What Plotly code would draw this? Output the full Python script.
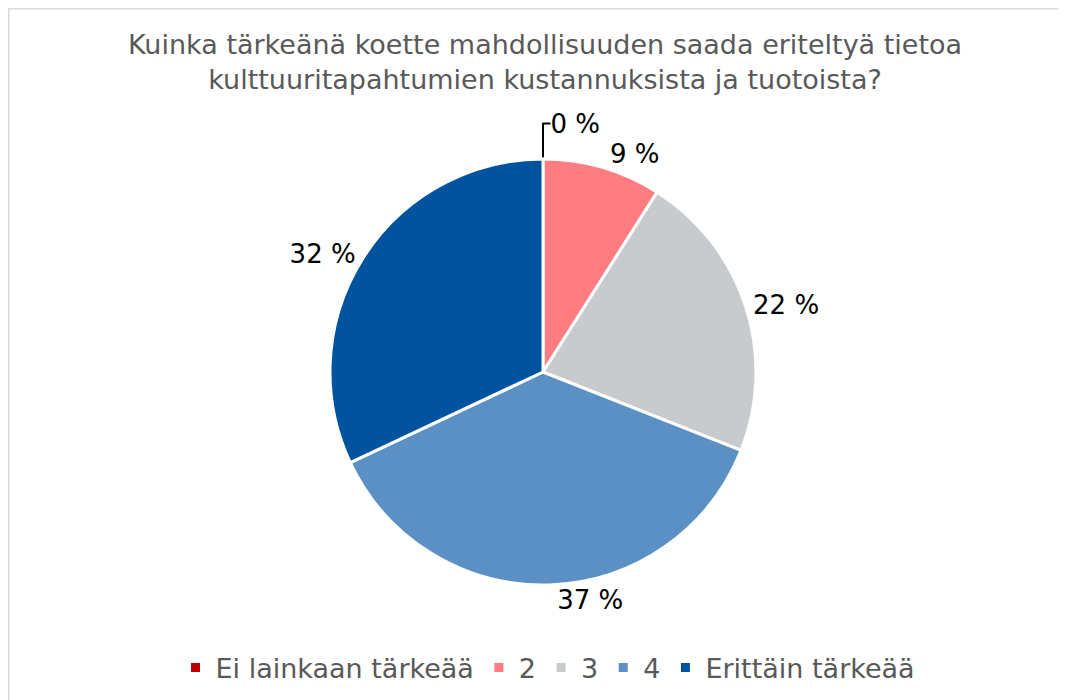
import plotly.graph_objects as go

# datos del gráfico
vastaukset = ['Ei lainkaan tärkeää', '2', '3', '4', 'Erittäin tärkeää']
osuudet = [0, 9, 22, 37, 32]
varit = ['#C00000', '#FF7C80', '#C8CBCE', '#5B90C4', '#00539F']

otsikko = 'Kuinka tärkeänä koette mahdollisuuden saada eriteltyä tietoa<br>kulttuuritapahtumien kustannuksista ja tuotoista?'

# page adds an 8px body margin, so the figure starts at (8, 8)
OFF = 8
W, H = 1066 - OFF, 700 - OFF


def px_x(x):
    return (x - OFF) / W


def px_y(y):
    return 1 - (y - OFF) / H


fig = go.Figure()
fig.add_trace(go.Pie(
    labels=vastaukset, values=osuudet,
    sort=False, direction='clockwise', rotation=0,
    marker=dict(colors=varit, line=dict(color='white', width=3)),
    texttemplate='%{value} %', textposition='outside',
    textfont=dict(size=26, color='#000000'),
    domain=dict(x=[px_x(330), px_x(756)], y=[px_y(585), px_y(159)]),
    hoverinfo='label+value',
))

fig.add_annotation(x=px_x(545), y=px_y(62), xref='paper', yref='paper',
                   xanchor='center', yanchor='middle',
                   text=otsikko, showarrow=False, align='center',
                   font=dict(size=27, color='#595959'))

# frame lines
fig.add_shape(type='line', xref='paper', yref='paper', x0=0, x1=1, y0=1, y1=1,
              line=dict(color='#D9D9D9', width=3))
fig.add_shape(type='line', xref='paper', yref='paper', x0=0, x1=0, y0=0, y1=1,
              line=dict(color='#D9D9D9', width=3))

fig.update_layout(
    width=W, height=H,
    margin=dict(l=0, r=0, t=0, b=0),
    paper_bgcolor='white',
    font=dict(family='DejaVu Sans, Verdana, sans-serif'),
    showlegend=True,
    legend=dict(orientation='h', x=px_x(548), xanchor='center', y=px_y(668), yanchor='middle',
                font=dict(size=27, color='#595959'), itemwidth=30, traceorder='normal'),
)

fig.write_html("out.html")
